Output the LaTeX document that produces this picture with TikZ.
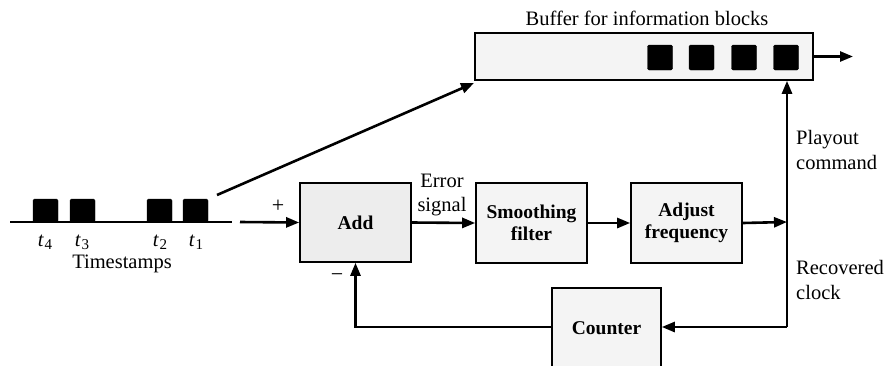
\documentclass[tikz,border=0pt]{standalone}
\usepackage{fontspec}
\setmainfont{Liberation Serif}
\usetikzlibrary{arrows.meta}
\newcommand{\tsub}[1]{\textit{t}\kern0.5pt\raisebox{-0.35ex}{\fontsize{15}{15}\selectfont #1}}
\begin{document}
\begin{tikzpicture}[x=1pt,y=-1pt,
  box/.style={draw, line width=1.6pt, fill=gray!9, font=\fontsize{19.5}{22}\selectfont\bfseries, align=center, inner sep=0pt},
  conn/.style={line width=2.6pt, -{Triangle[length=13pt,width=10pt]}},
  blk/.style={fill=black, draw=black, inner sep=0pt, minimum width=25pt, minimum height=23pt, rounded corners=1.5pt},
  txt/.style={font=\fontsize{20.5}{24}\selectfont, inner sep=0pt},
  lbl/.style={font=\fontsize{20.5}{24.5}\selectfont, align=left, inner sep=0pt}]
\useasboundingbox (0,0) rectangle (887,365);
\clip (0,0) rectangle (887,365);

% boxes
\node[box, minimum width=111pt, minimum height=79pt, fill=gray!14] (add) at (355.5,222.5) {Add};
\node[box, minimum width=111pt, minimum height=80pt] (smooth) at (531.5,223) {Smoothing\\filter};
\node[box, minimum width=111pt, minimum height=80pt] (adjust) at (686.5,223) {Adjust\\frequency};
\node[box, minimum width=109pt, minimum height=100pt] (counter) at (606.5,338) {};
\node[font=\fontsize{19.5}{22}\selectfont\bfseries, inner sep=0pt] (countertxt) at (606.5,328) {Counter};
\node[box, minimum width=338pt, minimum height=47pt] (buf) at (644,56.5) {};

% buffer blocks
\node[blk, minimum height=25pt] (b4) at (660,57.5) {};
\node[blk, minimum height=25pt] (b3) at (701.5,57.5) {};
\node[blk, minimum height=25pt] (b2) at (744,57.5) {};
\node[blk, minimum height=25pt] (b1) at (786,57.5) {};
\node[txt] (buflbl) at (647,18) {Buffer for information blocks};

% timestamps
\coordinate (tsL) at (10,222);
\coordinate (tsR) at (232,222);
\draw[line width=2pt] (tsL) -- (tsR);
\node[blk] (t4) at (45.5,210.5) {};
\node[blk] (t3) at (82.5,210.5) {};
\node[blk] (t2) at (159.5,210.5) {};
\node[blk] (t1) at (195.5,210.5) {};
\node[txt] (l4) at (45,242) {\tsub{4}};
\node[txt] (l3) at (82,242) {\tsub{3}};
\node[txt] (l2) at (160,242) {\tsub{2}};
\node[txt] (l1) at (196,242) {\tsub{1}};
\node[txt] (tslbl) at (122,264) {Timestamps};

% connectors
\coordinate (in) at (240,222);
\draw[conn] (in) -- (add.west);
\node[font=\fontsize{22}{24}\selectfont, inner sep=0pt] (plus) at (278,206) {+};
\coordinate (d0) at (217,195);
\coordinate (d1) at (474,83);
\draw[conn] (d0) -- (d1);
\draw[conn] (add.east) -- (smooth.west);
\node[lbl, align=center] (err) at (442,195) {Error\\signal};
\draw[conn] (smooth.east) -- (adjust.west);
\coordinate (j) at (787,222);
\draw[conn] (adjust.east) -- (j);
\coordinate (jb) at (787,327);
\draw[conn] (jb) -- (jb |- buf.south);
\draw[conn] (jb) -- (jb -| counter.east);
\draw[conn] (jb -| counter.west) -| (add.south);
\node[font=\fontsize{22}{24}\selectfont, inner sep=0pt] (minus) at (337,278) {\textminus};
\coordinate (out) at (853,56.5);
\draw[conn] (buf.east) -- (out);

% side labels
\node[lbl, anchor=west] (play) at (796,150) {Playout\\command};
\node[lbl, anchor=west] (rec) at (796,280) {Recovered\\clock};
\end{tikzpicture}
\end{document}
